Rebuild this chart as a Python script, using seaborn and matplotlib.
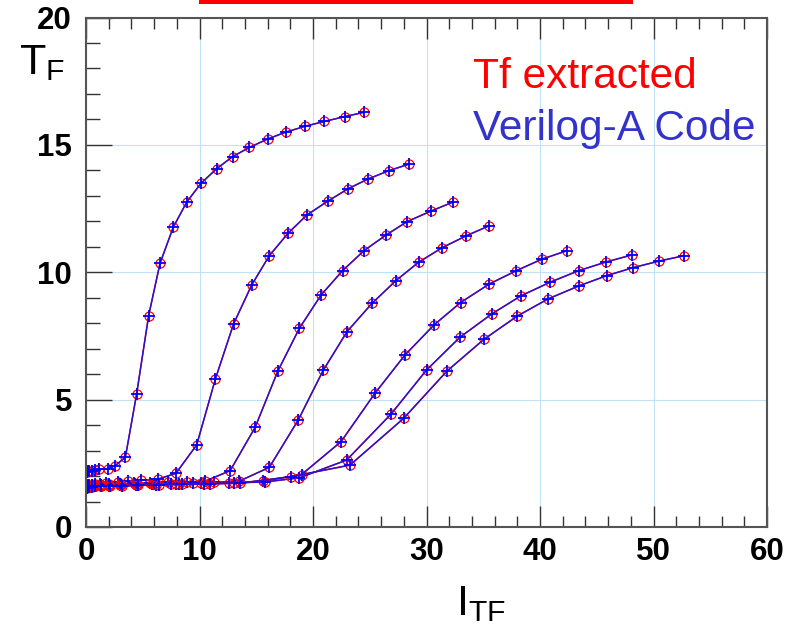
import numpy as np
import pandas as pd
import seaborn as sns
import matplotlib.pyplot as plt
from matplotlib.patches import Rectangle

# curves (I_TF, T_F), one per sweep
x1 = [0.05, 0.15, 0.3, 0.5, 0.75, 1.17, 1.9, 2.58, 3.47, 4.46, 5.52, 6.52, 7.69, 8.87, 10.13, 11.5, 12.92, 14.4, 16.0, 17.6, 19.3, 21.0, 22.8, 24.5]
y1 = [2.17, 2.18, 2.2, 2.21, 2.23, 2.27, 2.29, 2.41, 2.74, 5.22, 8.3, 10.35, 11.77, 12.75, 13.49, 14.06, 14.54, 14.9, 15.23, 15.5, 15.73, 15.92, 16.11, 16.28]

x2 = [0.05, 0.15, 0.3, 0.5, 0.8, 1.2, 1.8, 2.8, 3.67, 4.85, 6.3, 7.93, 9.75, 11.4, 13.0, 14.6, 16.15, 17.8, 19.47, 21.3, 23.1, 24.85, 26.7, 28.5]
y2 = [1.62, 1.63, 1.64, 1.65, 1.67, 1.7, 1.72, 1.76, 1.8, 1.83, 1.87, 2.11, 3.22, 5.81, 7.97, 9.5, 10.65, 11.53, 12.25, 12.79, 13.28, 13.66, 13.99, 14.25]

x3 = [0.05, 0.15, 0.3, 0.5, 0.8, 1.3, 2.0, 3.0, 4.2, 5.6, 7.2, 8.9, 10.5, 12.7, 14.9, 16.9, 18.8, 20.7, 22.6, 24.5, 26.4, 28.3, 30.4, 32.3]
y3 = [1.6, 1.61, 1.62, 1.63, 1.64, 1.66, 1.68, 1.7, 1.72, 1.73, 1.75, 1.77, 1.8, 2.21, 3.91, 6.12, 7.8, 9.1, 10.06, 10.85, 11.45, 11.99, 12.4, 12.75]

x4 = [0.05, 0.15, 0.3, 0.5, 0.8, 1.3, 2.0, 3.0, 4.3, 5.8, 7.5, 9.4, 11.3, 13.5, 16.15, 18.7, 20.9, 23.0, 25.2, 27.3, 29.3, 31.4, 33.5, 35.5]
y4 = [1.58, 1.59, 1.6, 1.61, 1.62, 1.63, 1.64, 1.66, 1.67, 1.68, 1.7, 1.72, 1.75, 1.8, 2.34, 4.2, 6.15, 7.67, 8.78, 9.67, 10.39, 10.97, 11.43, 11.82]

x5 = [0.05, 0.15, 0.3, 0.5, 0.8, 1.3, 2.0, 3.0, 4.4, 6.0, 7.9, 10.1, 12.6, 15.6, 19.0, 22.47, 25.46, 28.1, 30.66, 33.0, 35.5, 37.86, 40.15, 42.4]
y5 = [1.57, 1.58, 1.59, 1.6, 1.61, 1.62, 1.63, 1.64, 1.65, 1.67, 1.69, 1.71, 1.74, 1.8, 2.06, 3.35, 5.25, 6.75, 7.93, 8.81, 9.53, 10.05, 10.51, 10.85]

x6 = [0.05, 0.15, 0.3, 0.5, 0.8, 1.3, 2.0, 3.1, 4.5, 6.2, 8.2, 10.4, 13.0, 15.8, 18.8, 22.97, 26.85, 30.0, 32.95, 35.74, 38.3, 40.9, 43.4, 45.8, 48.1]
y6 = [1.56, 1.57, 1.58, 1.59, 1.6, 1.61, 1.62, 1.63, 1.64, 1.66, 1.68, 1.7, 1.73, 1.77, 1.93, 2.63, 4.42, 6.16, 7.45, 8.36, 9.07, 9.61, 10.06, 10.4, 10.68]

x7 = [0.05, 0.15, 0.3, 0.5, 0.8, 1.3, 2.1, 3.2, 4.6, 6.4, 8.5, 10.9, 13.6, 18.1, 23.26, 28.0, 31.8, 35.07, 38.0, 40.7, 43.4, 45.9, 48.2, 50.5, 52.7]
y7 = [1.55, 1.56, 1.57, 1.58, 1.59, 1.6, 1.61, 1.62, 1.63, 1.65, 1.67, 1.69, 1.72, 1.98, 2.43, 4.27, 6.12, 7.37, 8.28, 8.95, 9.46, 9.87, 10.18, 10.44, 10.65]

curves = [(x1, y1), (x2, y2), (x3, y3), (x4, y4), (x5, y5), (x6, y6), (x7, y7)]

records = []
for i, (xs, ys) in enumerate(curves):
    for k, (xv, yv) in enumerate(zip(xs, ys)):
        records.append({'curve': i, 'order': k, 'I_TF': xv, 'T_F': yv})
df = pd.DataFrame(records)

sns.set_style('white')
plt.rcParams['font.family'] = ['Liberation Sans', 'DejaVu Sans']
plt.rcParams['mathtext.fontset'] = 'custom'
plt.rcParams['mathtext.rm'] = 'Liberation Sans'
plt.rcParams['text.color'] = 'black'
plt.rcParams['xtick.color'] = 'black'
plt.rcParams['ytick.color'] = 'black'

fig = plt.figure(figsize=(7.97, 6.24), dpi=100)
ax = fig.add_axes([86 / 797, 1 - 527 / 624, (767 - 86) / 797, (527 - 17.5) / 624])

for i in range(len(curves)):
    sub = df[df['curve'] == i]
    # extracted values: red open circles
    sns.lineplot(data=sub, x='I_TF', y='T_F', ax=ax, sort=False, estimator=None,
                 color='red', lw=1.0, marker='o', markersize=6.5,
                 markerfacecolor='none', markeredgecolor='red', markeredgewidth=0.9)
    # Verilog-A model: blue plus
    sns.lineplot(data=sub, x='I_TF', y='T_F', ax=ax, sort=False, estimator=None,
                 color='#2a10d0', lw=1.1, marker='+', markersize=8,
                 markeredgecolor='blue', markeredgewidth=1.3)

ax.set_xlim(0, 60)
ax.set_ylim(0, 20)
ax.set_xticks(np.arange(0, 61, 10))
ax.set_yticks(np.arange(0, 21, 5))
ax.set_xticks(np.arange(0, 61, 2), minor=True)
ax.set_yticks(np.arange(0, 21, 1), minor=True)
ax.set_xlabel('')
ax.set_ylabel('')

ax.grid(True, which='major', color='#bfe2f7', lw=0.8)
ax.set_axisbelow(True)

for s in ax.spines.values():
    s.set_color('#555555')
    s.set_linewidth(1.5)

ax.tick_params(axis='x', which='both', direction='in', top=True, bottom=True,
               color='#333333', labelcolor='black', width=1.0, pad=7)
ax.tick_params(axis='x', which='major', length=15)
ax.tick_params(axis='x', which='minor', length=8)
ax.tick_params(axis='y', which='both', direction='in', left=True, right=False,
               color='#333333', labelcolor='black', width=1.0, pad=10)
ax.tick_params(axis='y', which='major', length=19)
ax.tick_params(axis='y', which='minor', length=10)
for lab in ax.get_xticklabels() + ax.get_yticklabels():
    lab.set_fontsize(22.5)
    lab.set_fontweight('bold')

# axis labels placed like the original
fig.text(19 / 797, 1 - 74 / 624, r'$\mathregular{T_F}$', fontsize=31, ha='left', va='baseline')
fig.text(456 / 797, 1 - 615 / 624, r'$\mathregular{I_{TF}}$', fontsize=31, ha='left', va='baseline')

# legend as coloured text
fig.text(473 / 797, 1 - 88 / 624, 'Tf extracted', color='red', fontsize=30.5, ha='left', va='baseline')
fig.text(473 / 797, 1 - 140 / 624, 'Verilog-A Code', color='#3333cc', fontsize=30.5, ha='left', va='baseline')

# red bar at the top edge
fig.add_artist(Rectangle((199 / 797, 1 - 3.5 / 624), 434 / 797, 3.5 / 624,
                         transform=fig.transFigure, color='red', lw=0))

fig.savefig('out.png', dpi=100)
